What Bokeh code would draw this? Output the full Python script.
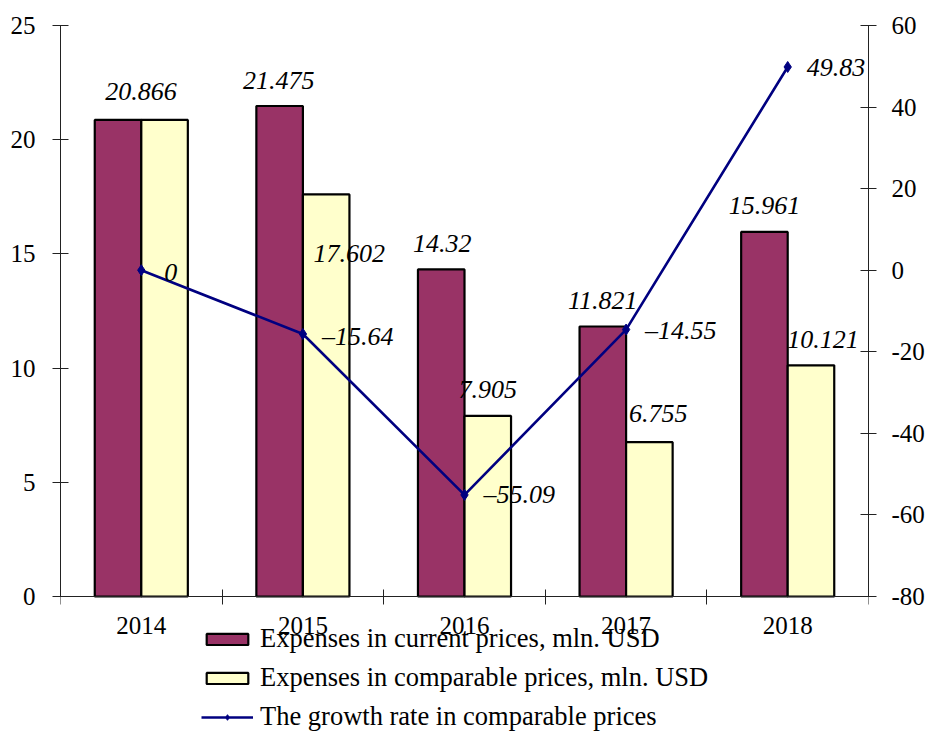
from bokeh.plotting import figure
from bokeh.models import (Range1d, LinearAxis, FixedTicker, ColumnDataSource,
                          Legend, LegendItem)
from bokeh.transform import dodge
from bokeh.core.properties import value
from bokeh.embed import file_html
from bokeh.resources import INLINE

# ---- data ----
years = ["2014", "2015", "2016", "2017", "2018"]
current_prices = [20.866, 21.475, 14.32, 11.821, 15.961]
comparable_prices = [20.866, 17.602, 7.905, 6.755, 10.121]
growth_rate = [0, -15.64, -55.09, -14.55, 49.83]
left_ticks = [0, 5, 10, 15, 20, 25]
right_ticks = [-80, -60, -40, -20, 0, 20, 40, 60]

# label styling (pixel offsets of the value labels)
cur_label_dx = [23, -1, 1, 0, 0]
cur_label_dy = [-28, -26, -26, -26, -26]
cmp_label_show = [False, True, True, True, True]
cmp_label_dx = [0, 23, 0, 9, 12]
cmp_label_dy = [-26, 59, -26, -29, -26]
rate_label_dx = [23, 19, 19, 19, 19]
rate_label_dy = [2, 2, 0, 1, 1]

FONT = "Liberation Serif"
MAROON = "#993366"
CREAM = "#FFFFCC"
NAVY = "#000080"
BAR_W = 0.288
HALF = BAR_W / 2

# layout: plot area top at 25px, value axis zero at 596px, canvas 731px high
TOP, ZERO_PX, H = 25, 596, 731
L_MIN, L_MAX = left_ticks[0], left_ticks[-1]
R_MIN, R_MAX = right_ticks[0], right_ticks[-1]
below_px = H - ZERO_PX
span_px = ZERO_PX - TOP
l_start = L_MIN - below_px * (L_MAX - L_MIN) / span_px
r_start = R_MIN - below_px * (R_MAX - R_MIN) / span_px

xs = [i + 0.5 for i in range(len(years))]

p = figure(width=927, height=H, x_range=Range1d(0, len(years)),
           y_range=Range1d(l_start, L_MAX),
           output_backend="svg", toolbar_location=None,
           min_border_left=60, min_border_right=59, min_border_top=TOP,
           min_border_bottom=0)
p.outline_line_color = None
p.xgrid.visible = False
p.ygrid.visible = False
p.background_fill_color = "white"
p.border_fill_color = "white"
p.extra_y_ranges = {"rate": Range1d(r_start, R_MAX)}

src = ColumnDataSource(dict(x=xs, cur=current_prices, cmp=comparable_prices,
                            rate=growth_rate))

bar_cur = p.vbar(x=dodge("x", -HALF, range=p.x_range), top="cur", width=BAR_W,
                 source=src, fill_color=MAROON, line_color="black", line_width=2.2)
bar_cmp = p.vbar(x=dodge("x", HALF, range=p.x_range), top="cmp", width=BAR_W,
                 source=src, fill_color=CREAM, line_color="black", line_width=2.2)

line_r = p.line(x="x", y="rate", source=src, y_range_name="rate",
                line_color=NAVY, line_width=2.6)
mark_r = p.scatter(x="x", y="rate", source=src, y_range_name="rate",
                   marker="diamond", size=11, fill_color=NAVY, line_color=NAVY)

# bar value labels
lab_x, lab_y, lab_t, lab_dx, lab_dy = [], [], [], [], []
for i in range(len(years)):
    lab_x.append(xs[i] - HALF)
    lab_y.append(current_prices[i])
    lab_t.append(str(current_prices[i]))
    lab_dx.append(cur_label_dx[i])
    lab_dy.append(cur_label_dy[i])
    if cmp_label_show[i]:
        lab_x.append(xs[i] + HALF)
        lab_y.append(comparable_prices[i])
        lab_t.append(str(comparable_prices[i]))
        lab_dx.append(cmp_label_dx[i])
        lab_dy.append(cmp_label_dy[i])
lab_src = ColumnDataSource(dict(x=lab_x, y=lab_y, t=lab_t, dx=lab_dx, dy=lab_dy))
p.text(x="x", y="y", text="t", x_offset="dx", y_offset="dy", source=lab_src,
       text_align="center", text_baseline="middle", text_font=value(FONT),
       text_font_style="italic", text_font_size="26px", text_color="black")

rate_txt = [f"{v:g}".replace("-", "\u2013") for v in growth_rate]
rate_src = ColumnDataSource(dict(x=xs, y=growth_rate, t=rate_txt,
                                 dx=rate_label_dx, dy=rate_label_dy))
p.text(x="x", y="y", text="t", x_offset="dx", y_offset="dy", source=rate_src,
       y_range_name="rate", text_align="left", text_baseline="middle",
       text_font=value(FONT), text_font_style="italic", text_font_size="26px",
       text_color="black")

# axes
ax_color = "#222222"
xa = p.xaxis[0]
xa.fixed_location = 0
xa.ticker = FixedTicker(ticks=xs, minor_ticks=list(range(len(years) + 1)))
xa.major_label_overrides = {x: y for x, y in zip(xs, years)}
xa.major_tick_out = 0
xa.major_tick_in = 0
xa.minor_tick_in = 7
xa.minor_tick_out = 8
xa.minor_tick_line_color = ax_color
xa.axis_line_color = ax_color
xa.major_label_standoff = 12
xa.major_label_text_font = FONT
xa.major_label_text_font_size = "25px"
xa.major_label_text_color = "black"

ya = p.yaxis[0]
ya.bounds = (L_MIN, L_MAX)
ya.ticker = FixedTicker(ticks=left_ticks, minor_ticks=[])
ya.major_tick_in = 8
ya.major_tick_out = 8
ya.minor_tick_line_color = None
ya.axis_line_color = ax_color
ya.major_tick_line_color = ax_color
ya.major_label_standoff = 17
ya.major_label_text_font = FONT
ya.major_label_text_font_size = "25px"
ya.major_label_text_color = "black"

ra = LinearAxis(y_range_name="rate", bounds=(R_MIN, R_MAX),
                ticker=FixedTicker(ticks=right_ticks, minor_ticks=[]))
ra.major_label_overrides = {t: str(t) for t in right_ticks}
ra.major_tick_in = 8
ra.major_tick_out = 8
ra.minor_tick_line_color = None
ra.axis_line_color = ax_color
ra.major_tick_line_color = ax_color
ra.major_label_standoff = 15
ra.major_label_text_font = FONT
ra.major_label_text_font_size = "25px"
ra.major_label_text_color = "black"
p.add_layout(ra, "right")

legend = Legend(items=[
    LegendItem(label="Expenses in current prices, mln. USD", renderers=[bar_cur]),
    LegendItem(label="Expenses in comparable prices, mln. USD", renderers=[bar_cmp]),
    LegendItem(label="The growth rate in comparable prices", renderers=[line_r, mark_r]),
], location=(141, -1), orientation="vertical", glyph_width=52, glyph_height=14,
    label_text_font=FONT, label_text_font_size="26.5px", label_text_color="black",
    border_line_color=None, background_fill_alpha=0, padding=0, margin=0,
    spacing=8, label_standoff=7, label_height=30)
p.add_layout(legend, "center")

open("out.html", "w").write(file_html(p, INLINE))
